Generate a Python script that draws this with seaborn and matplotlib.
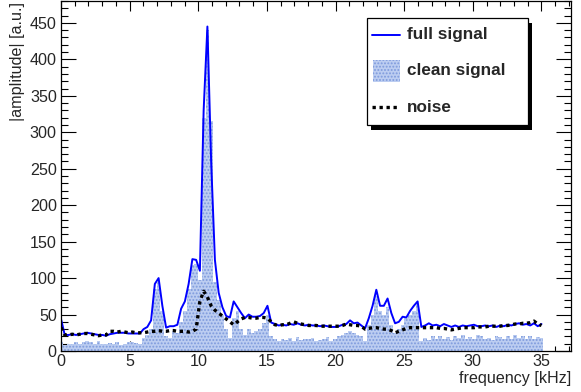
import matplotlib
matplotlib.use('Agg')
import matplotlib.pyplot as plt
import seaborn as sns
import numpy as np
import pandas as pd
from matplotlib.patches import Rectangle
from matplotlib.lines import Line2D
from matplotlib.ticker import MultipleLocator

# frequency bins: 128 bins over 0 - 35 kHz
n_bins = 128
f_max = 35.0
freq = np.arange(n_bins + 1) * f_max / n_bins

# |amplitude| of the full signal (blue line)
full_signal = [
    44, 22, 22, 23, 22, 23, 24, 25, 24, 23,
    22, 22, 21, 23, 24, 25, 25, 25, 24, 24,
    24, 24, 30, 33, 42, 92, 100, 62, 32, 34,
    34, 36, 58, 68, 92, 126, 125, 110, 330, 445,
    260, 125, 80, 60, 48, 46, 68, 60, 52, 45,
    50, 47, 47, 48, 52, 62, 39, 37, 35, 36,
    35, 37, 36, 38, 36, 35, 36, 35, 35, 34,
    35, 34, 33, 33, 34, 36, 37, 42, 38, 39,
    35, 31, 45, 62, 84, 62, 62, 72, 52, 38,
    40, 47, 46, 55, 62, 68, 33, 35, 38, 35,
    36, 34, 37, 35, 33, 35, 33, 35, 34, 35,
    36, 34, 34, 35, 34, 35, 33, 35, 34, 36,
    35, 37, 38, 36, 37, 35, 38, 34, 37,
]

# clean signal (hatched histogram)
clean_signal = [
    12, 8, 10, 9, 12, 10, 13, 14, 12, 10,
    14, 10, 9, 11, 10, 12, 8, 10, 13, 12,
    11, 10, 18, 22, 30, 85, 95, 55, 20, 18,
    28, 25, 40, 55, 85, 118, 120, 98, 320, 440,
    315, 95, 70, 50, 30, 18, 45, 55, 30, 22,
    30, 25, 28, 30, 38, 50, 20, 16, 14, 17,
    15, 18, 14, 19, 15, 17, 16, 18, 14, 15,
    17, 19, 14, 16, 20, 22, 25, 28, 25, 22,
    20, 14, 35, 50, 75, 55, 50, 60, 35, 25,
    30, 35, 45, 50, 55, 65, 14, 18, 15, 20,
    17, 21, 16, 19, 15, 20, 18, 22, 16, 19,
    17, 22, 20, 16, 18, 15, 21, 19, 17, 20,
    16, 22, 18, 21, 17, 20, 16, 19, 18,
]

# noise (black dotted line)
noise = [
    32, 22, 22, 23, 22, 23, 24, 24, 23, 22,
    21, 22, 22, 27, 27, 26, 27, 26, 25, 26,
    25, 25, 25, 26, 27, 27, 28, 27, 27, 28,
    28, 27, 27, 27, 26, 27, 30, 68, 82, 74,
    62, 56, 52, 48, 44, 40, 36, 40, 44, 46,
    46, 45, 45, 46, 46, 45, 40, 36, 35, 36,
    36, 38, 40, 38, 37, 36, 35, 35, 35, 34,
    34, 34, 34, 34, 34, 35, 37, 36, 35, 35,
    34, 30, 31, 32, 32, 31, 30, 30, 28, 25,
    27, 29, 31, 32, 32, 32, 32, 32, 32, 32,
    32, 31, 31, 30, 29, 30, 31, 32, 32, 32,
    32, 33, 33, 33, 34, 34, 34, 34, 35, 35,
    36, 37, 37, 38, 38, 39, 41, 37, 35,
]

df = pd.DataFrame({'freq': freq, 'full': full_signal,
                   'clean': clean_signal, 'noise': noise})

W, H = 581, 392
sns.set_style('ticks')
plt.rcParams['font.family'] = ['Liberation Sans', 'DejaVu Sans']
plt.rcParams['hatch.linewidth'] = 0.9

fig = plt.figure(figsize=(W / 100, H / 100), dpi=100)
ax = fig.add_axes([61 / W, 1 - 351 / H, 510 / W, 350 / H])

fill_col = '#bccdf1'
hatch_col = '#7d9adc'

# clean signal: one full-width bar per frequency bin
sns.barplot(data=df, x='freq', y='clean', native_scale=True, width=1.0,
            errorbar=None, ax=ax, color=fill_col, saturation=1,
            edgecolor=hatch_col, hatch='.....', linewidth=0)

sns.lineplot(data=df, x='freq', y='full', ax=ax, color='#0000ff', linewidth=1.4)
sns.lineplot(data=df, x='freq', y='noise', ax=ax, color='black', linewidth=2.4,
             linestyle=(0, (1, 1.1)))

ax.set_xlim(0, 37.15)
ax.set_ylim(0, 480)
ax.set_xlabel('')
ax.set_ylabel('')
ax.xaxis.set_major_locator(MultipleLocator(5))
ax.xaxis.set_minor_locator(MultipleLocator(1))
ax.xaxis.set_major_formatter('{x:g}')
ax.yaxis.set_major_locator(MultipleLocator(50))
ax.yaxis.set_minor_locator(MultipleLocator(10))
ax.tick_params(which='both', direction='in', top=True, right=True,
               width=0.8, color='black', labelsize=11.6)
ax.tick_params(axis='x', which='major', length=7.2, pad=2)
ax.tick_params(axis='x', which='minor', length=3.6)
ax.tick_params(axis='y', which='major', length=10.8, pad=3)
ax.tick_params(axis='y', which='minor', length=5)
for s in ax.spines.values():
    s.set_linewidth(0.9)
    s.set_color('black')

# axis titles, ROOT style (aligned to axis ends)
fig.text(571 / W, 1 - 379 / H, 'frequency [kHz]', ha='right', va='center',
         fontsize=11.6)
fig.text(18 / W, 1 - 2 / H, '|amplitude| [a.u.]', ha='center', va='top',
         rotation=90, fontsize=11.6)

# legend box with shadow
def box(x0, y0, x1, y1, **kw):
    return Rectangle((x0 / W, 1 - y1 / H), (x1 - x0) / W, (y1 - y0) / H,
                     transform=fig.transFigure, **kw)

fig.add_artist(box(371, 23, 531.5, 129.5, facecolor='black', edgecolor='none', zorder=5))
fig.add_artist(box(366.5, 18.5, 527.5, 125, facecolor='white', edgecolor='black',
                   linewidth=0.9, zorder=6))
fig.add_artist(Line2D([372 / W, 400 / W], [1 - 35 / H] * 2, transform=fig.transFigure,
                      color='#0000ff', linewidth=1.4, zorder=7))
fig.add_artist(box(373, 59.5, 400, 81.5, facecolor=fill_col, edgecolor=hatch_col,
                   hatch='.....', linewidth=0, zorder=7))
fig.add_artist(Line2D([372 / W, 400 / W], [1 - 107 / H] * 2, transform=fig.transFigure,
                      color='black', linewidth=2.4, linestyle=(0, (1, 1.1)), zorder=7))
for label, y in [('full signal', 35), ('clean signal', 71), ('noise', 107)]:
    fig.text(407 / W, 1 - y / H, label, ha='left', va='center', fontsize=12.3,
             fontweight='bold', zorder=8)

fig.savefig('out.png', dpi=100)
